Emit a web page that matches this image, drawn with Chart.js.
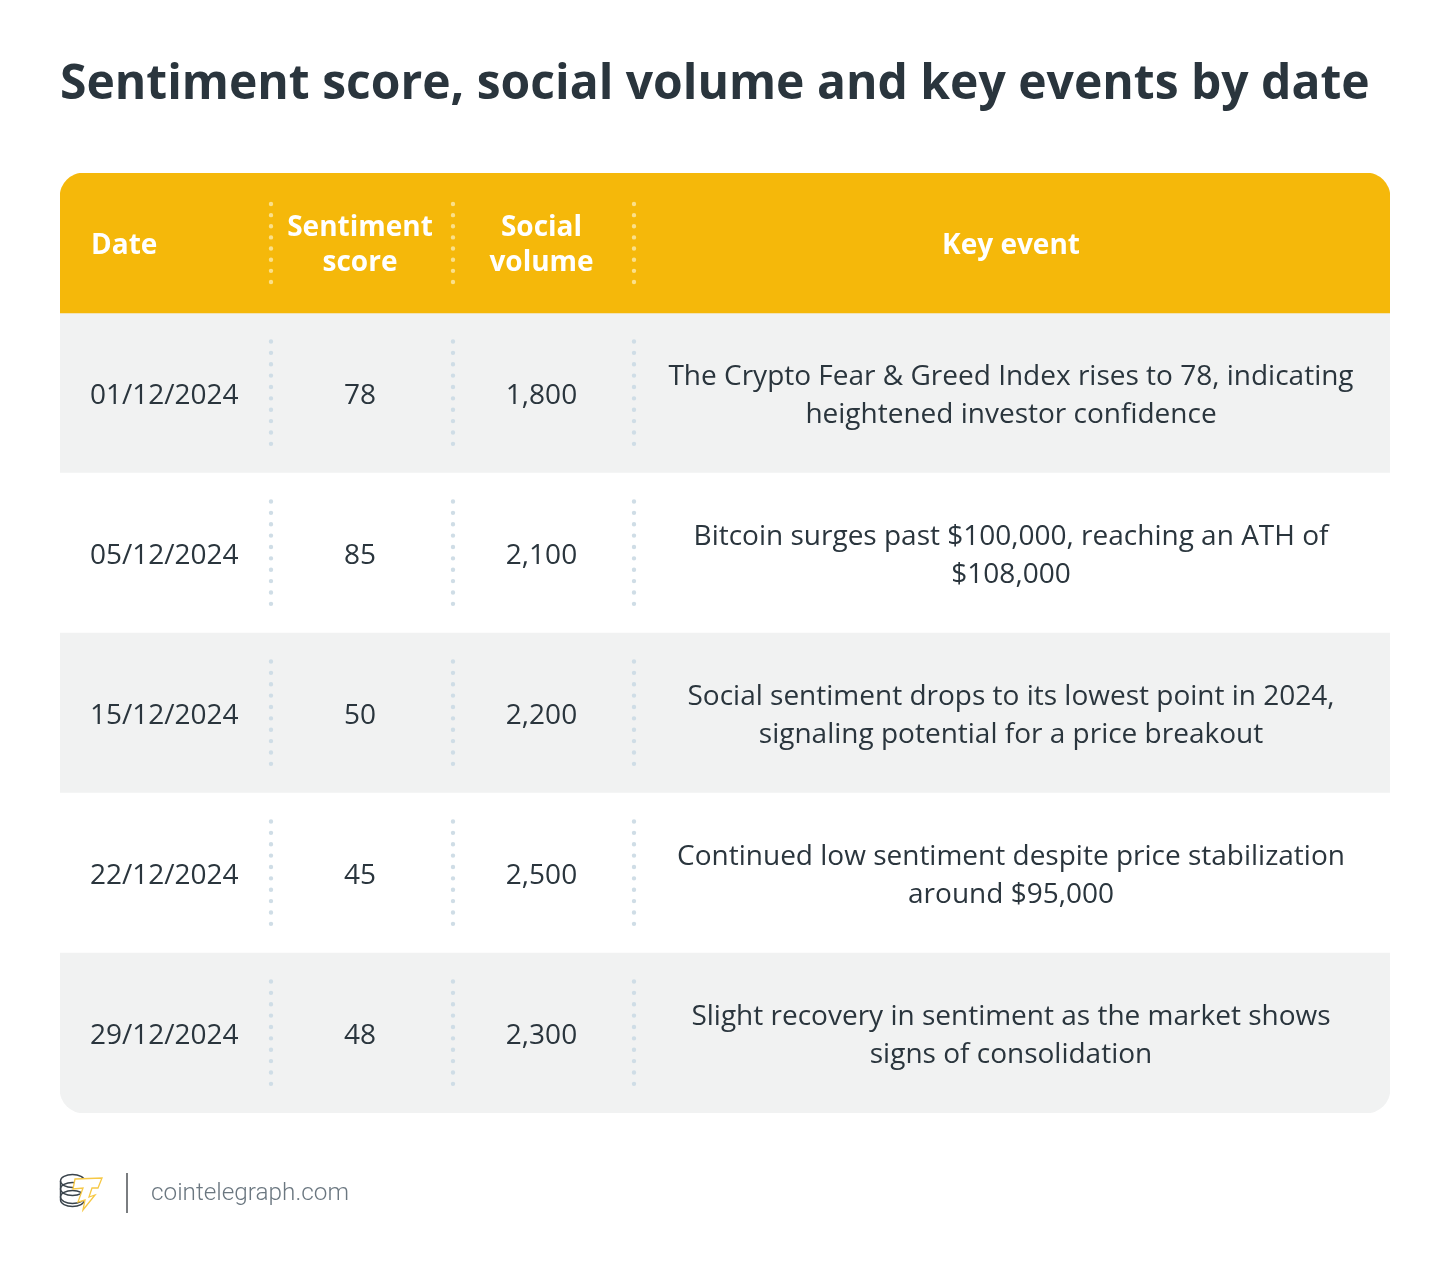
<!DOCTYPE html>
<html><head><meta charset="utf-8">
<style>html,body{margin:0;padding:0;background:#fff}canvas{display:block}</style>
<script src="https://cdn.jsdelivr.net/npm/chart.js@4/dist/chart.umd.min.js"></script>
</head><body><canvas id="c" width="1450" height="1273"></canvas>
<script>
const titleText = "Sentiment score, social volume and key events by date";
const headers = [["Date"],["Sentiment","score"],["Social","volume"],["Key event"]];
const dates = ["01/12/2024","05/12/2024","15/12/2024","22/12/2024","29/12/2024"];
const sentimentScores = [78,85,50,45,48];
const socialVolumes = [1800,2100,2200,2500,2300];
const keyEvents = [
 ["The Crypto Fear & Greed Index rises to 78, indicating","heightened investor confidence"],
 ["Bitcoin surges past $100,000, reaching an ATH of","$108,000"],
 ["Social sentiment drops to its lowest point in 2024,","signaling potential for a price breakout"],
 ["Continued low sentiment despite price stabilization","around $95,000"],
 ["Slight recovery in sentiment as the market shows","signs of consolidation"]
];
const footerText = "cointelegraph.com";

// layout (table units = px inside the table)
const TW = 1330, HEADER_ROWS = 0.875, R = 24;
const separators = [211,393,574];
const columnCenters = [30,300,481.5,951];
const INK = "#2a353d";

const tablePlugin = {
  id:"tablePlugin",
  afterDatasetsDraw(chart){
    const {ctx, scales:{x,y}} = chart;
    const sx = separators.map(v=>Math.round(x.getPixelForValue(v)));
    const cx = columnCenters.map(v=>x.getPixelForValue(v));
    const dots = (px, y0, y1, color, gap) => {
      ctx.save(); ctx.strokeStyle=color; ctx.lineWidth=4.4; ctx.lineCap="round";
      ctx.setLineDash([0,gap]); ctx.beginPath(); ctx.moveTo(px,y0); ctx.lineTo(px,y1+1); ctx.stroke(); ctx.restore();
    };
    ctx.save();
    ctx.textBaseline="alphabetic";
    // header
    const hc = y.getPixelForValue(-HEADER_ROWS/2);
    ctx.fillStyle="#ffffff"; ctx.font="700 28px 'Open Sans'";
    headers.forEach((ls,i)=>{
      ctx.textAlign = i===0?"left":"center";
      ls.forEach((l,k)=>{
        const yy = hc + (ls.length===1?11:10) + (k-(ls.length-1)/2)*35;
        ctx.fillText(l,cx[i]+(i===0?1:0),yy);
      });
    });
    sx.forEach(p=>dots(p,hc-39,hc+39,"#fbe08a",11.14));
    // rows
    ctx.font="400 28px 'Open Sans'";
    dates.forEach((d,r)=>{
      const rc = y.getPixelForValue(r+0.5);
      ctx.fillStyle=INK;
      ctx.textAlign="left"; ctx.fillText(d,cx[0],rc+11);
      ctx.textAlign="center";
      ctx.fillText(String(sentimentScores[r]),cx[1],rc+11);
      ctx.fillText(socialVolumes[r].toLocaleString("en-US"),cx[2],rc+11);
      keyEvents[r].forEach((l,k)=>ctx.fillText(l,cx[3],rc+11+(k-0.5)*38));
      sx.forEach(p=>dots(p,rc-51.5,rc+51,"#cfdde6",11.37));
    });
    ctx.restore();
    // footer
    ctx.save();
    ctx.fillStyle="#6b7780"; ctx.font="300 24.3px Roboto"; ctx.textAlign="left";
    ctx.fillText(footerText,151,1200);
    ctx.fillStyle="#7a7d80"; ctx.fillRect(126,1173,2,40);
    ctx.strokeStyle="#39434b"; ctx.lineWidth=1.4;
    [1181,1189,1197].forEach(cy=>{
      ctx.beginPath(); ctx.ellipse(72.5,cy,12,6.5,0,0,Math.PI*2); ctx.stroke();
    });
    ctx.beginPath(); ctx.moveTo(60.5,1181); ctx.lineTo(60.5,1200);
    ctx.ellipse(72.5,1200,12,6.5,0,Math.PI,0,true); ctx.stroke();
    ctx.fillStyle="#ffffff"; ctx.strokeStyle="#f6c845"; ctx.lineWidth=1.3;
    ctx.beginPath();
    [[75,1179],[102,1178],[98,1188],[92,1188],[89,1197],[95,1195],[83,1210],[85,1200],[78,1202],[83,1188],[73,1189]]
      .forEach((p,i)=> i?ctx.lineTo(p[0],p[1]):ctx.moveTo(p[0],p[1]));
    ctx.closePath(); ctx.fill(); ctx.stroke();
    ctx.restore();
  }
};

new Chart(document.getElementById("c"),{
  type:"bar",
  data:{datasets:[
    {label:"Header", barThickness:140, backgroundColor:"#f5b80a", borderSkipped:false,
     borderRadius:{topLeft:R,topRight:R,bottomLeft:0,bottomRight:0},
     data:[{y:-HEADER_ROWS/2,x:[0,TW]}]},
    {label:"Rows", barThickness:160, borderSkipped:false,
     backgroundColor:ctx=>ctx.dataIndex%2===0?"#f1f2f2":"#ffffff",
     borderRadius:ctx=>ctx.dataIndex===dates.length-1?{topLeft:0,topRight:0,bottomLeft:R,bottomRight:R}:0,
     data:dates.map((d,i)=>({y:i+0.5,x:[0,TW]}))}
  ]},
  options:{
    indexAxis:"y", responsive:false, animation:false, devicePixelRatio:1,
    layout:{padding:{left:60,right:60,top:0,bottom:160}},
    datasets:{bar:{grouped:false}},
    scales:{
      x:{type:"linear",min:0,max:TW,display:false},
      y:{type:"linear",min:-HEADER_ROWS,max:dates.length,reverse:true,display:false,offset:false}
    },
    plugins:{
      legend:{display:false}, tooltip:{enabled:false},
      title:{display:true,text:titleText,align:"start",fullSize:false,color:INK,
        font:{family:"'Open Sans'",size:48,weight:"700",lineHeight:1},
        padding:{top:61,bottom:64}}
    }
  },
  plugins:[tablePlugin]
});
</script></body></html>
